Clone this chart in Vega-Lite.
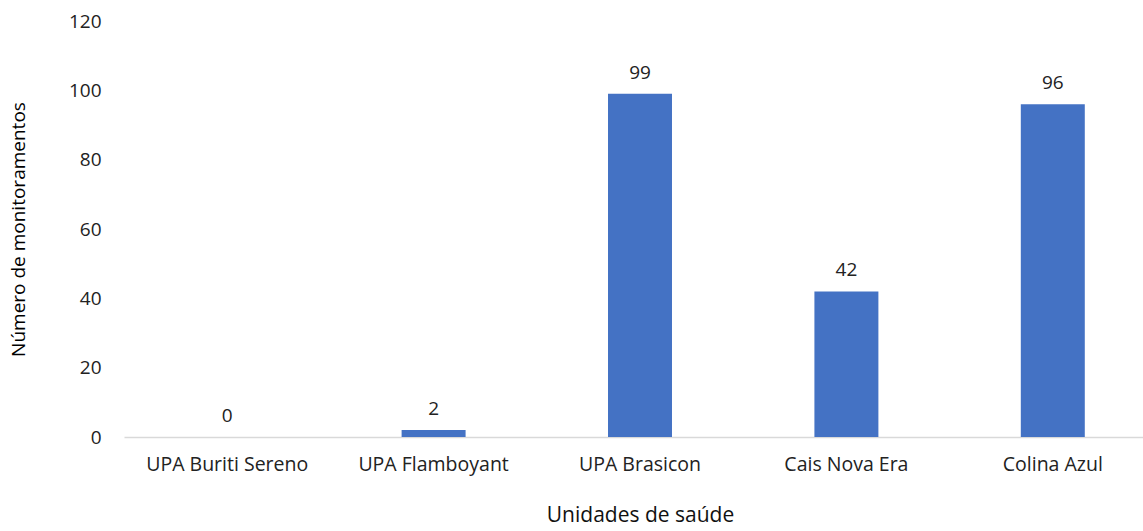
{
  "$schema": "https://vega.github.io/schema/vega-lite/v6.json",
  "autosize": {"type": "none"},
  "padding": {"left": 124, "top": 21, "right": 0, "bottom": 94},
  "width": 1032,
  "height": 416,
  "background": "white",
  "config": {"view": {"stroke": null}, "font": "Open Sans"},
  "data": {"values": [
    {"unidade": "UPA Buriti Sereno", "valor": 0},
    {"unidade": "UPA Flamboyant", "valor": 2},
    {"unidade": "UPA Brasicon", "valor": 99},
    {"unidade": "Cais Nova Era", "valor": 42},
    {"unidade": "Colina Azul", "valor": 96}
  ]},
  "encoding": {
    "x": {"field": "unidade", "type": "nominal", "sort": null,
      "scale": {"paddingInner": 0.69, "paddingOuter": 0.345},
      "axis": {"title": "Unidades de saúde", "labelAngle": 0, "ticks": false,
        "domainColor": "#d9d9d9", "domainWidth": 1.5, "labelFontSize": 19.5, "labelColor": "#222222",
        "labelPadding": 18, "titleFontSize": 21, "titleFontWeight": "normal", "titleColor": "#111111",
        "titlePadding": 31, "labelFont": "Open Sans", "titleFont": "Open Sans"}},
    "y": {"field": "valor", "type": "quantitative",
      "scale": {"domain": [0, 120]},
      "axis": {"title": "Número de monitoramentos", "values": [0, 20, 40, 60, 80, 100, 120],
        "grid": false, "ticks": false, "domain": false, "labelFontSize": 19, "labelColor": "#222222",
        "labelPadding": 23, "titleFontSize": 19, "titleFontWeight": "normal", "titleColor": "#000000",
        "titlePadding": 40, "labelFont": "Open Sans", "titleFont": "Open Sans"}}
  },
  "layer": [
    {"mark": {"type": "bar", "color": "#4472C4"}},
    {"mark": {"type": "text", "dy": -21, "fontSize": 19, "color": "#222222", "font": "Open Sans"},
     "encoding": {"text": {"field": "valor", "type": "quantitative"}}}
  ]
}
